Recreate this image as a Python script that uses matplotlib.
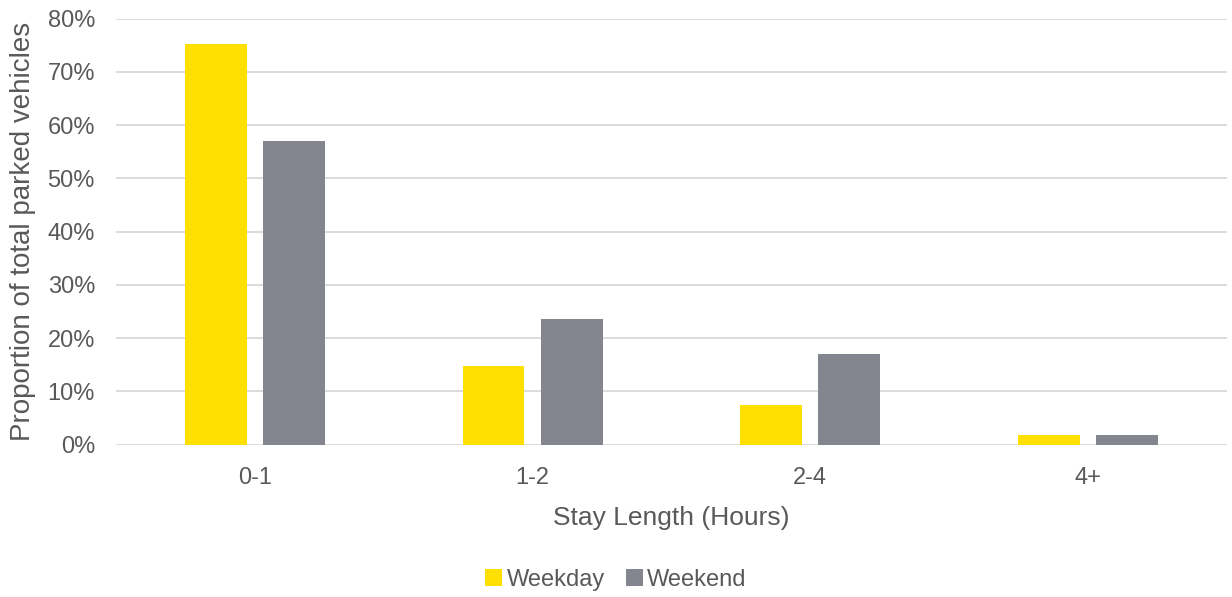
import numpy as np
import matplotlib
matplotlib.use("Agg")
import matplotlib.pyplot as plt
from matplotlib.ticker import PercentFormatter

plt.rcParams['font.family'] = ['Liberation Sans', 'DejaVu Sans']

# data
categories = ['0-1', '1-2', '2-4', '4+']
weekday = [75.3, 14.8, 7.5, 1.9]
weekend = [57.1, 23.6, 17.0, 1.9]

text_col = '#595959'
fig = plt.figure(figsize=(12.32, 5.97), dpi=100)
ax = fig.add_axes([0.094, 0.255, 0.902, 0.714])

x = np.arange(len(categories))
w = 0.223
gap = 0.058
ax.bar(x - (w + gap) / 2, weekday, w, color='#FFDF00', label='Weekday', zorder=3)
ax.bar(x + (w + gap) / 2, weekend, w, color='#83858F', label='Weekend', zorder=3)

ax.set_xlim(-0.5, len(categories) - 0.5)
ax.set_ylim(0, 80)
ax.set_yticks(np.arange(0, 81, 10))
ax.yaxis.set_major_formatter(PercentFormatter(decimals=0))
ax.set_xticks(x)
ax.set_xticklabels(categories)
ax.grid(axis='y', color='#D9D9D9', linewidth=1.3, zorder=0)
for s in ax.spines.values():
    s.set_visible(False)
ax.tick_params(length=0, labelsize=17, colors=text_col)
ax.tick_params(axis='y', pad=15)
ax.tick_params(axis='x', pad=16)

ax.set_xlabel('Stay Length (Hours)', fontsize=19, color=text_col, labelpad=12)
ax.set_ylabel('Proportion of total parked vehicles', fontsize=20, color=text_col, labelpad=8)

fig.legend(loc='center', bbox_to_anchor=(0.5, 0.029), ncol=2, frameon=False,
           fontsize=17, labelcolor=text_col, handlelength=0.7, handleheight=0.7,
           handletextpad=0.2, columnspacing=0.9, borderpad=0)

fig.savefig('out.png', dpi=100)
